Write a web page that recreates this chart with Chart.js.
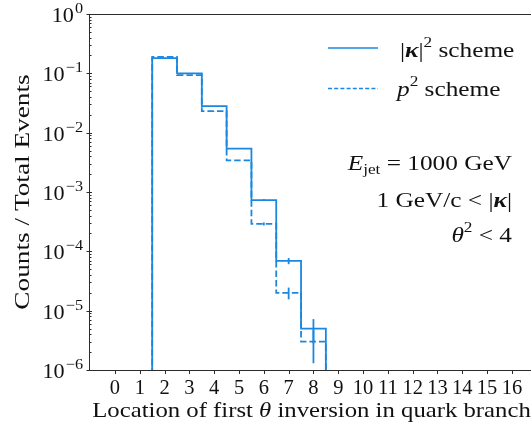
<!DOCTYPE html>
<html lang="en">
<head>
<meta charset="UTF-8" />
<title>First theta inversion</title>
<script src="https://cdn.jsdelivr.net/npm/chart.js"></script>
<style>
  body { margin: 0; background: #fff; }
  #wrap { width: 531px; height: 426px; }
</style>
</head>
<body>
<div id="wrap"><canvas id="histo" width="531" height="426"></canvas></div>
<script>
// histogram bins: location index n covers [n-0.5, n+0.5]
const binEdges = [1.5, 2.5, 3.5, 4.5, 5.5, 6.5, 7.5, 8.5];
const binCenters = [2, 3, 4, 5, 6, 7, 8];

// counts / total events, |kappa|^2 scheme
const kappaFrac = [0.18, 0.10, 0.028, 0.0054, 0.00073, 0.000069, 0.000005];
const kappaErr = [0.00042, 0.00032, 0.00017, 0.000073, 0.000027, 0.0000083, 0.0000022];

// counts / total events, p^2 scheme
const pFrac = [0.19, 0.093, 0.023, 0.0034, 0.00029, 0.00002, 0.000003];
const pErr = [0.00044, 0.0003, 0.00015, 0.000058, 0.000017, 0.0000045, 0.0000017];

const xTicks = [0, 1, 2, 3, 4, 5, 6, 7, 8, 9, 10, 11, 12, 13, 14, 15, 16];
const yDecades = [0, -1, -2, -3, -4, -5, -6];

const blue = '#1a88e0';
const axisColor = '#2b2b2b';
const SERIF = '"Liberation Serif", "DejaVu Serif", serif';

// outline of a step histogram, closed down to below the axis
function stepPoints(vals) {
    const pts = [{ x: binEdges[0], y: 1e-8 }];
    vals.forEach(function (v, i) { pts.push({ x: binEdges[i], y: v }); });
    pts.push({ x: binEdges[binEdges.length - 1], y: 1e-8 });
    return pts;
}

// draw a run of text pieces (for super/subscripts), sx widens the glyphs
function richText(ctx, parts, x, y, align, sx) {
    sx = sx || 1;
    let w = 0;
    parts.forEach(function (p) { ctx.font = p.font; w += ctx.measureText(p.t).width; });
    const start = align === 'right' ? x - w * sx : (align === 'center' ? x - w * sx / 2 : x);
    ctx.save();
    ctx.translate(start, y);
    ctx.scale(sx, 1);
    ctx.textAlign = 'left';
    ctx.textBaseline = 'alphabetic';
    let cx = 0;
    parts.forEach(function (p) {
        ctx.font = p.font;
        ctx.fillText(p.t, cx, p.dy || 0);
        cx += ctx.measureText(p.t).width;
    });
    ctx.restore();
}

const f = function (size, style) { return (style ? style + ' ' : '') + size + 'px ' + SERIF; };

const decorations = {
    id: 'decorations',
    afterDatasetsDraw(chart) {
        const ctx = chart.ctx;
        const xs = chart.scales.x, ys = chart.scales.y;
        const area = chart.chartArea;

        // error bars at bin centres
        ctx.save();
        ctx.beginPath();
        ctx.rect(area.left, area.top, area.right - area.left, area.bottom - area.top);
        ctx.clip();
        ctx.strokeStyle = blue;
        ctx.lineWidth = 1.8;
        [[kappaFrac, kappaErr], [pFrac, pErr]].forEach(function (s) {
            s[0].forEach(function (v, i) {
                const px = xs.getPixelForValue(binCenters[i]);
                ctx.beginPath();
                ctx.moveTo(px, ys.getPixelForValue(v - s[1][i]));
                ctx.lineTo(px, ys.getPixelForValue(v + s[1][i]));
                ctx.stroke();
            });
        });
        ctx.restore();
    },
    afterDraw(chart) {
        const ctx = chart.ctx;
        const xs = chart.scales.x, ys = chart.scales.y;
        const area = chart.chartArea;
        ctx.save();

        // spines
        ctx.strokeStyle = axisColor;
        ctx.lineWidth = 1;
        ctx.beginPath();
        ctx.moveTo(area.right + 1, area.top + 0.5);
        ctx.lineTo(area.left + 0.5, area.top + 0.5);
        ctx.lineTo(area.left + 0.5, area.bottom + 0.5);
        ctx.lineTo(area.right + 1, area.bottom + 0.5);
        ctx.stroke();

        // y ticks: decades and minor ticks
        ctx.beginPath();
        yDecades.forEach(function (d) {
            const py = Math.round(ys.getPixelForValue(Math.pow(10, d))) + 0.5;
            ctx.moveTo(area.left - 2.5, py);
            ctx.lineTo(area.left + 3, py);
            if (d > -6) {
                for (let m = 2; m <= 9; m++) {
                    const my = Math.round(ys.getPixelForValue(m * Math.pow(10, d - 1))) + 0.5;
                    ctx.moveTo(area.left, my);
                    ctx.lineTo(area.left + 2.5, my);
                }
            }
        });
        // x ticks
        xTicks.forEach(function (t) {
            const px = Math.round(xs.getPixelForValue(t)) + 0.5;
            ctx.moveTo(px, area.bottom);
            ctx.lineTo(px, area.bottom + 4);
        });
        ctx.stroke();

        ctx.fillStyle = '#111';
        // y tick labels 10^n
        yDecades.forEach(function (d) {
            const py = ys.getPixelForValue(Math.pow(10, d));
            const exp = d === 0 ? '0' : '\u2212' + (-d);
            richText(ctx, [
                { t: '10', font: f(20.5) },
                { t: ' ', font: f(4) },
                { t: exp, font: f(15), dy: -9 }
            ], 83, py + 8, 'right', 1.08);
        });
        // x tick labels
        xTicks.forEach(function (t) {
            richText(ctx, [{ t: String(t), font: f(20.5) }], xs.getPixelForValue(t), 394, 'center', 1.0);
        });

        // axis titles
        richText(ctx, [
            { t: 'Location of first ', font: f(21.5) },
            { t: '\u03b8', font: f(21.5, 'italic') },
            { t: ' inversion in quark branch', font: f(21.5) }
        ], 311.5, 417, 'center', 1.15);
        ctx.save();
        ctx.translate(29, 192);
        ctx.rotate(-Math.PI / 2);
        richText(ctx, [{ t: 'Counts / Total Events', font: f(22) }], 0, 0, 'center', 1.24);
        ctx.restore();

        // legend
        ctx.strokeStyle = blue;
        ctx.lineWidth = 1.5;
        ctx.beginPath();
        ctx.moveTo(328, 48);
        ctx.lineTo(378, 48);
        ctx.stroke();
        ctx.setLineDash([4, 2.2]);
        ctx.beginPath();
        ctx.moveTo(328, 88.5);
        ctx.lineTo(378, 88.5);
        ctx.stroke();
        ctx.setLineDash([]);

        richText(ctx, [
            { t: '|', font: f(22) },
            { t: '\u03ba', font: f(22, 'italic bold') },
            { t: '|', font: f(22) },
            { t: '2', font: f(15), dy: -10 },
            { t: ' scheme', font: f(22) }
        ], 400, 56.5, 'left', 1.15);
        richText(ctx, [
            { t: 'p', font: f(22, 'italic') },
            { t: '2', font: f(15), dy: -10 },
            { t: ' scheme', font: f(22) }
        ], 397, 95.5, 'left', 1.15);

        // cut annotations
        richText(ctx, [
            { t: 'E', font: f(22, 'italic') },
            { t: 'jet', font: f(15), dy: 4 },
            { t: ' = 1000 GeV', font: f(22) }
        ], 512, 170, 'right', 1.15);
        richText(ctx, [
            { t: '1 GeV/c < |', font: f(22) },
            { t: '\u03ba', font: f(22, 'italic bold') },
            { t: '|', font: f(22) }
        ], 512, 207, 'right', 1.15);
        richText(ctx, [
            { t: '\u03b8', font: f(22, 'italic') },
            { t: '2', font: f(15), dy: -10 },
            { t: ' < 4', font: f(22) }
        ], 512, 242, 'right', 1.15);

        ctx.restore();
    }
};

const lineStyle = {
    borderColor: blue,
    borderWidth: 1.8,
    stepped: true,
    pointRadius: 0,
    fill: false,
    clip: 0,
    borderJoinStyle: 'miter',
    borderCapStyle: 'butt'
};

const myChart = new Chart(document.getElementById('histo'), {
    type: 'line',
    data: {
        datasets: [
            Object.assign({ label: '|\u03ba|\u00b2 scheme', data: stepPoints(kappaFrac) }, lineStyle),
            Object.assign({ label: 'p\u00b2 scheme', data: stepPoints(pFrac), borderDash: [6.5, 3] }, lineStyle)
        ]
    },
    options: {
        responsive: false,
        animation: false,
        layout: { padding: { left: 89, top: 14, right: 0, bottom: 56 } },
        scales: {
            x: { type: 'linear', min: -1.048, max: 16.77, display: false },
            y: { type: 'logarithmic', min: 1e-6, max: 1, display: false }
        },
        plugins: {
            legend: { display: false },
            tooltip: { enabled: false }
        }
    },
    plugins: [decorations]
});
</script>
</body>
</html>
